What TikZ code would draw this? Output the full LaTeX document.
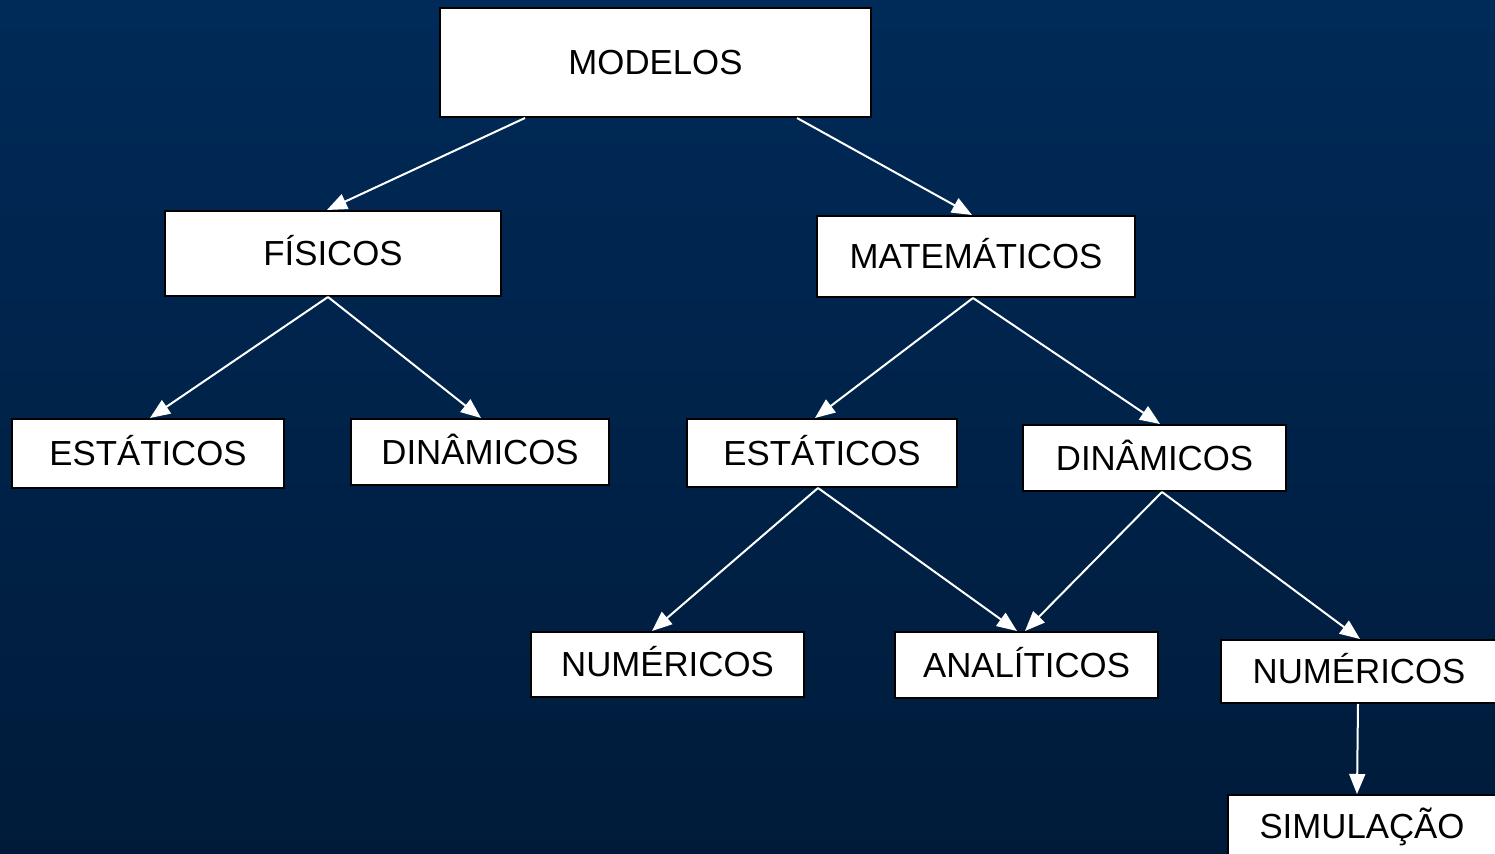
\documentclass[tikz,border=0pt]{standalone}
\usepackage{fontspec}
\setmainfont{Liberation Sans}
\usetikzlibrary{arrows.meta}

\definecolor{fundotopo}{RGB}{0,42,88}
\definecolor{fundomeio}{RGB}{0,48,96}
\definecolor{fundobase}{RGB}{0,27,58}

\tikzset{
	caixa/.style={shape=rectangle,draw=black,fill=white,line width=1pt,inner sep=0pt,
		text height=12.5pt,text depth=0pt,font=\fontsize{17.4}{20}\selectfont},
	seta/.style={color=white,line width=1pt,-{Triangle[length=10pt,width=8pt,fill=white]}}
}

\begin{document}
\begin{tikzpicture}[x=0.5pt,y=-0.5pt]

	\useasboundingbox (0,0) rectangle (1495,854);
	\clip (0,0) rectangle (1495,854);
	\shade[top color=fundotopo,middle color=fundomeio,bottom color=fundobase] (0,0) rectangle (1495,854);

	\node[caixa,minimum width=215.5pt,minimum height=54.5pt] (modelos) at (655.5,62.5) {MODELOS};
	\node[caixa,minimum width=168pt,minimum height=42.5pt] (fisicos) at (333,253.5) {FÍSICOS};
	\node[caixa,minimum width=159pt,minimum height=40.5pt] (matematicos) at (976,256.5) {MATEMÁTICOS};
	\node[caixa,minimum width=136pt,minimum height=34.5pt] (estaticosF) at (148,453.5) {ESTÁTICOS};
	\node[caixa,minimum width=129pt,minimum height=33pt] (dinamicosF) at (480,452) {DINÂMICOS};
	\node[caixa,minimum width=135pt,minimum height=34pt] (estaticosM) at (822,453) {ESTÁTICOS};
	\node[caixa,minimum width=131.5pt,minimum height=33pt] (dinamicosM) at (1154.5,458) {DINÂMICOS};
	\node[caixa,minimum width=136.5pt,minimum height=32.5pt] (numericosE) at (667.5,664.5) {NUMÉRICOS};
	\node[caixa,minimum width=131.5pt,minimum height=33pt] (analiticos) at (1026.5,665) {ANALÍTICOS};
	\node[caixa,minimum width=138pt,minimum height=31.5pt] (numericosD) at (1359,671.5) {NUMÉRICOS};
	\node[caixa,minimum width=134pt,minimum height=31pt] (simulacao) at (1362,826) {SIMULAÇÃO};

	\path ([xshift=-65.25pt]modelos.south) edge[seta] ([xshift=-3pt]fisicos.north);
	\path ([xshift=70.75pt]modelos.south) edge[seta] ([xshift=-2pt]matematicos.north);
	\path ([xshift=-2.5pt]fisicos.south) edge[seta] ([xshift=1pt]estaticosF.north);
	\path ([xshift=-2.5pt]fisicos.south) edge[seta] ([xshift=0.5pt]dinamicosF.north);
	\path ([xshift=-1.5pt]matematicos.south) edge[seta] ([xshift=-3.5pt]estaticosM.north);
	\path ([xshift=-1.5pt]matematicos.south) edge[seta] ([xshift=2.75pt]dinamicosM.north);
	\path ([xshift=-2pt]estaticosM.south) edge[seta] ([xshift=-7.75pt]numericosE.north);
	\path ([xshift=-2pt]estaticosM.south) edge[seta] ([xshift=-4.75pt]analiticos.north);
	\path ([xshift=3.75pt]dinamicosM.south) edge[seta] ([xshift=-0.75pt]analiticos.north);
	\path ([xshift=3.75pt]dinamicosM.south) edge[seta] ([xshift=0.5pt]numericosD.north);
	\path ([xshift=-0.5pt]numericosD.south) edge[seta] ([xshift=-2.5pt]simulacao.north);

\end{tikzpicture}
\end{document}
